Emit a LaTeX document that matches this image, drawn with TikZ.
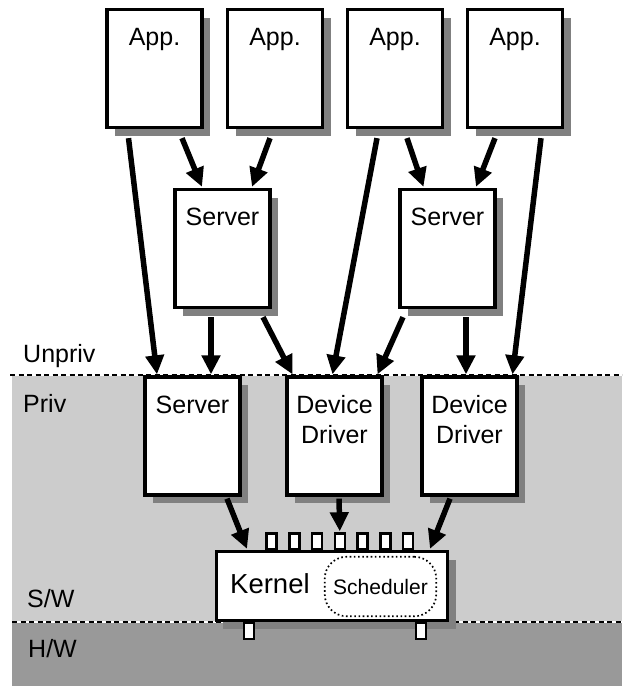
\documentclass[tikz,border=0pt]{standalone}
\usepackage{fontspec}
\setmainfont{Liberation Sans}
\usetikzlibrary{arrows.meta, shadows}
\definecolor{privgray}{HTML}{CCCCCC}
\definecolor{hwgray}{HTML}{999999}
\definecolor{shadowgray}{HTML}{808080}

\begin{document}
\begin{tikzpicture}[x=1pt, y=-1pt,
        box/.style = {rectangle, draw, line width=3.3pt, fill=white,
                     minimum width=95pt, minimum height=118pt, inner sep=0pt,
                     drop shadow={shadow xshift=8pt, shadow yshift=-8pt,
                                  fill=shadowgray, opacity=1}},
        txt/.style = {font=\fontsize{25}{30}\selectfont, inner sep=0pt},
      inbox/.style = {label={[txt, anchor=north, yshift=-20pt, align=center]north:#1}},
        arr/.style = {line width=5.5pt, -{Triangle[length=19pt, width=18pt]}},
       port/.style = {rectangle, draw, line width=2.5pt, fill=white, inner sep=0pt,
                     minimum width=10pt, minimum height=16pt},
      layer/.style = {line width=2.4pt, dash pattern=on 5pt off 3.5pt}
                        ]
\useasboundingbox (0,0) rectangle (622,686);
% privilege levels
\fill[privgray] (12,375) rectangle (622,622);
\fill[hwgray] (12,622) rectangle (622,686);
\draw[white, line width=2.4pt] (12,375) -- (622,375);
\draw[layer] (10,375) -- (622,375);
\draw[white, line width=2.4pt] (12,622) -- (622,622);
\draw[layer] (12,622) -- (622,622);
\node (unpriv) [txt, anchor=base west] at (23,362) {Unpriv};
\node (priv) [txt, anchor=base west] at (23,412) {Priv};
\node (sw) [txt, anchor=base west] at (27,607) {S/W};
\node (hw) [txt, anchor=base west] at (28,657) {H/W};

% applications
\node (app1) [box, inbox=App.] at (154.5,68.5) {};
\node (app2) [box, inbox=App.] at (275,68.5) {};
\node (app3) [box, inbox=App.] at (395,68.5) {};
\node (app4) [box, inbox=App.] at (515,68.5) {};
% user level servers
\node (srvA) [box, inbox=Server] at (222.5,248.5) {};
\node (srvB) [box, inbox=Server] at (447.5,248.5) {};
% privileged servers and drivers
\node (srv) [box, inbox=Server] at (192.5,436) {};
\node (drvA) [box, inbox={Device\\Driver}] at (334.5,436) {};
\node (drvB) [box, inbox={Device\\Driver}] at (469.5,436) {};

% kernel
\node (kernel) [box, minimum width=231pt, minimum height=69pt,
                drop shadow={shadow xshift=6pt, shadow yshift=-8pt,
                             fill=shadowgray, opacity=1}] at (332,586) {};
\node (kname) [anchor=base west, inner sep=0pt, font=\fontsize{27.5}{30}\selectfont]
      at (230,593) {Kernel};
\node (sched) [draw, line width=1.7pt, dash pattern=on 1.6pt off 2.6pt,
               rounded corners=22pt, minimum width=111.5pt, minimum height=59.5pt,
               font=\fontsize{21}{24}\selectfont] at (380.5,586.5) {Scheduler};
\foreach \i in {1,...,7}
    \node (port\i) [port] at ({271.5+22.75*(\i-1)},541.5) {};
\node (hwport1) [port] at (249,631) {};
\node (hwport2) [port] at (421,631) {};

% calls
\draw[arr] ([xshift=-26pt, yshift=-9pt]app1.south) -- ([xshift=-35.5pt, yshift=1pt]srv.north);
\draw[arr] ([xshift=27.5pt, yshift=-9pt]app1.south) -- ([xshift=-20.5pt, yshift=1pt]srvA.north);
\draw[arr] ([xshift=-5pt, yshift=-9pt]app2.south) -- ([xshift=29.5pt, yshift=1pt]srvA.north);
\draw[arr] ([xshift=-18pt, yshift=-9pt]app3.south) -- ([xshift=-2pt, yshift=1pt]drvA.north);
\draw[arr] ([xshift=12pt, yshift=-9pt]app3.south) -- ([xshift=-24pt, yshift=1pt]srvB.north);
\draw[arr] ([xshift=-20pt, yshift=-9pt]app4.south) -- ([xshift=28.5pt, yshift=1pt]srvB.north);
\draw[arr] ([xshift=26pt, yshift=-9pt]app4.south) -- ([xshift=43pt, yshift=1pt]drvB.north);
\draw[arr] ([xshift=-11.5pt, yshift=-8pt]srvA.south) -- ([xshift=18.5pt, yshift=1pt]srv.north);
\draw[arr] ([xshift=40.5pt, yshift=-8pt]srvA.south) -- ([xshift=-42pt, yshift=1pt]drvA.north);
\draw[arr] ([xshift=-44.5pt, yshift=-8pt]srvB.south) -- ([xshift=43pt, yshift=1pt]drvA.north);
\draw[arr] ([xshift=18.5pt, yshift=-8pt]srvB.south) -- ([xshift=-3.5pt, yshift=1pt]drvB.north);
\draw[arr] ([xshift=34.5pt, yshift=-2pt]srv.south) -- ([xshift=-85pt, yshift=1pt]kernel.north);
\draw[arr] ([xshift=4.5pt, yshift=-2pt]drvA.south) -- ([yshift=1pt]port4.north);
\draw[arr] ([xshift=-19.5pt, yshift=-2pt]drvB.south) -- ([xshift=98pt, yshift=1pt]kernel.north);
\end{tikzpicture}
\end{document}
